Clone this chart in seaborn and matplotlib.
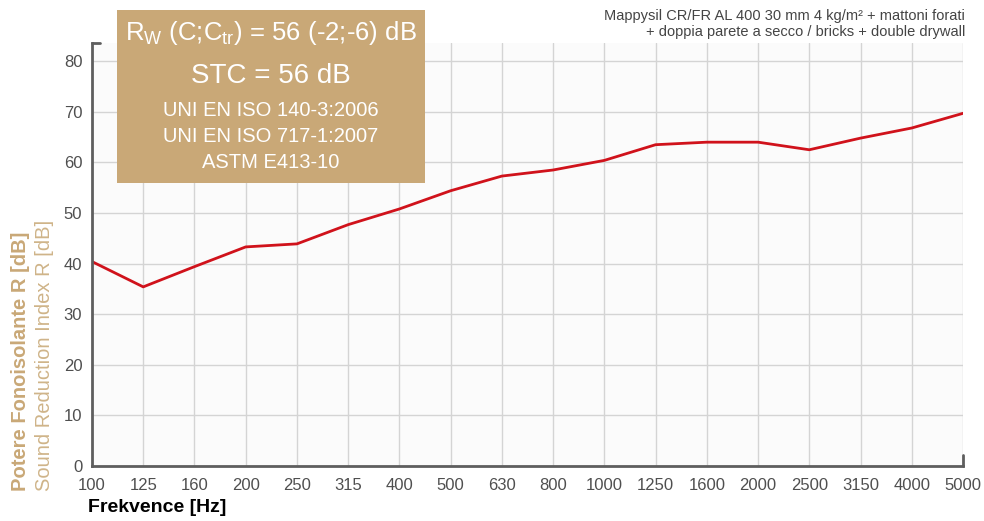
import matplotlib
matplotlib.use("Agg")
import matplotlib.pyplot as plt
import seaborn as sns
import pandas as pd
from matplotlib.patches import Rectangle

# Data
frequencies = ["100", "125", "160", "200", "250", "315", "400", "500", "630", "800",
               "1000", "1250", "1600", "2000", "2500", "3150", "4000", "5000"]
sound_reduction = [40.4, 35.4, 39.4, 43.3, 43.9, 47.7, 50.8, 54.4, 57.3, 58.5,
                   60.4, 63.5, 64.0, 64.0, 62.5, 64.8, 66.8, 69.7]
y_ticks = [0, 10, 20, 30, 40, 50, 60, 70, 80]

df = pd.DataFrame({"freq": frequencies, "R": sound_reduction})

sns.set_style("white")
plt.rcParams["font.family"] = ["Liberation Sans", "DejaVu Sans"]
plt.rcParams["mathtext.fontset"] = "custom"
plt.rcParams["mathtext.rm"] = "Liberation Sans"

tan = "#c9a877"
grey = "#5e5e5e"

fig = plt.figure(figsize=(9.84, 5.21), dpi=100)
fig.patch.set_facecolor("white")
ax = fig.add_axes([92 / 984, 55 / 521, 871 / 984, 423 / 521])
ax.set_facecolor("#fbfbfb")

sns.lineplot(data=df, x="freq", y="R", sort=False, color="#d0121b", linewidth=2, ax=ax)

ax.set_xlim(0, len(frequencies) - 1)
ax.set_ylim(0, 83.6)
ax.set_yticks(y_ticks)
ax.set_xticks(range(len(frequencies)))
ax.set_xticklabels(frequencies)
ax.grid(True, color="#d4d4d4", linewidth=1)
ax.set_axisbelow(True)

for side in ["top", "right"]:
    ax.spines[side].set_visible(False)
for side in ["left", "bottom"]:
    ax.spines[side].set_color(grey)
    ax.spines[side].set_linewidth(2)

ax.tick_params(axis="both", direction="inout", length=8, width=1.5, color=grey,
               labelcolor="#4f4f4f", labelsize=12)
ax.tick_params(axis="x", pad=5)
ax.tick_params(axis="y", pad=3)

# small caps at spine ends
ax.plot([0, 0.009], [1, 1], transform=ax.transAxes, color=grey, lw=2, clip_on=False)
ax.plot([1, 1], [0, 0.026], transform=ax.transAxes, color=grey, lw=2, clip_on=False)

ax.set_xlabel("")
ax.set_ylabel("")

# axis titles
fig.text(88 / 984, 1 - 508 / 521, "Frekvence [Hz]", fontsize=14, fontweight="bold",
         color="black", ha="left", va="center")
fig.text(21 / 984, 1 - 491 / 521, "Potere Fonoisolante R [dB]", rotation=90, fontsize=14.5,
         fontweight="bold", color=tan, ha="center", va="bottom")
fig.text(45 / 984, 1 - 491 / 521, "Sound Reduction Index R [dB]", rotation=90, fontsize=14.5,
         color="#cfb489", ha="center", va="bottom")

# header text
fig.text(965 / 984, 1 - 16 / 521, "Mappysil CR/FR AL 400 30 mm 4 kg/m² + mattoni forati",
         fontsize=10.5, color="#444444", ha="right", va="center")
fig.text(965 / 984, 1 - 32 / 521, "+ doppia parete a secco / bricks + double drywall",
         fontsize=10.5, color="#444444", ha="right", va="center")

# rating box
fig.patches.append(Rectangle((117 / 984, 1 - 183 / 521), 308 / 984, 173 / 521,
                             transform=fig.transFigure, facecolor=tan, edgecolor="none", zorder=5))
cx = 271 / 984
fig.text(cx, 1 - 33 / 521, r"R$_\mathrm{W}$ (C;C$_\mathrm{tr}$) = 56 (-2;-6) dB",
         fontsize=18.5, color="white", ha="center", va="center", zorder=6)
fig.text(cx, 1 - 76 / 521, "STC = 56 dB", fontsize=20, color="white",
         ha="center", va="center", zorder=6)
for ypix, line in [(110, "UNI EN ISO 140-3:2006"), (137, "UNI EN ISO 717-1:2007"),
                   (163, "ASTM E413-10")]:
    fig.text(cx, 1 - ypix / 521, line, fontsize=14.5, color="white",
             ha="center", va="center", zorder=6)

fig.savefig("out.png", dpi=100)
